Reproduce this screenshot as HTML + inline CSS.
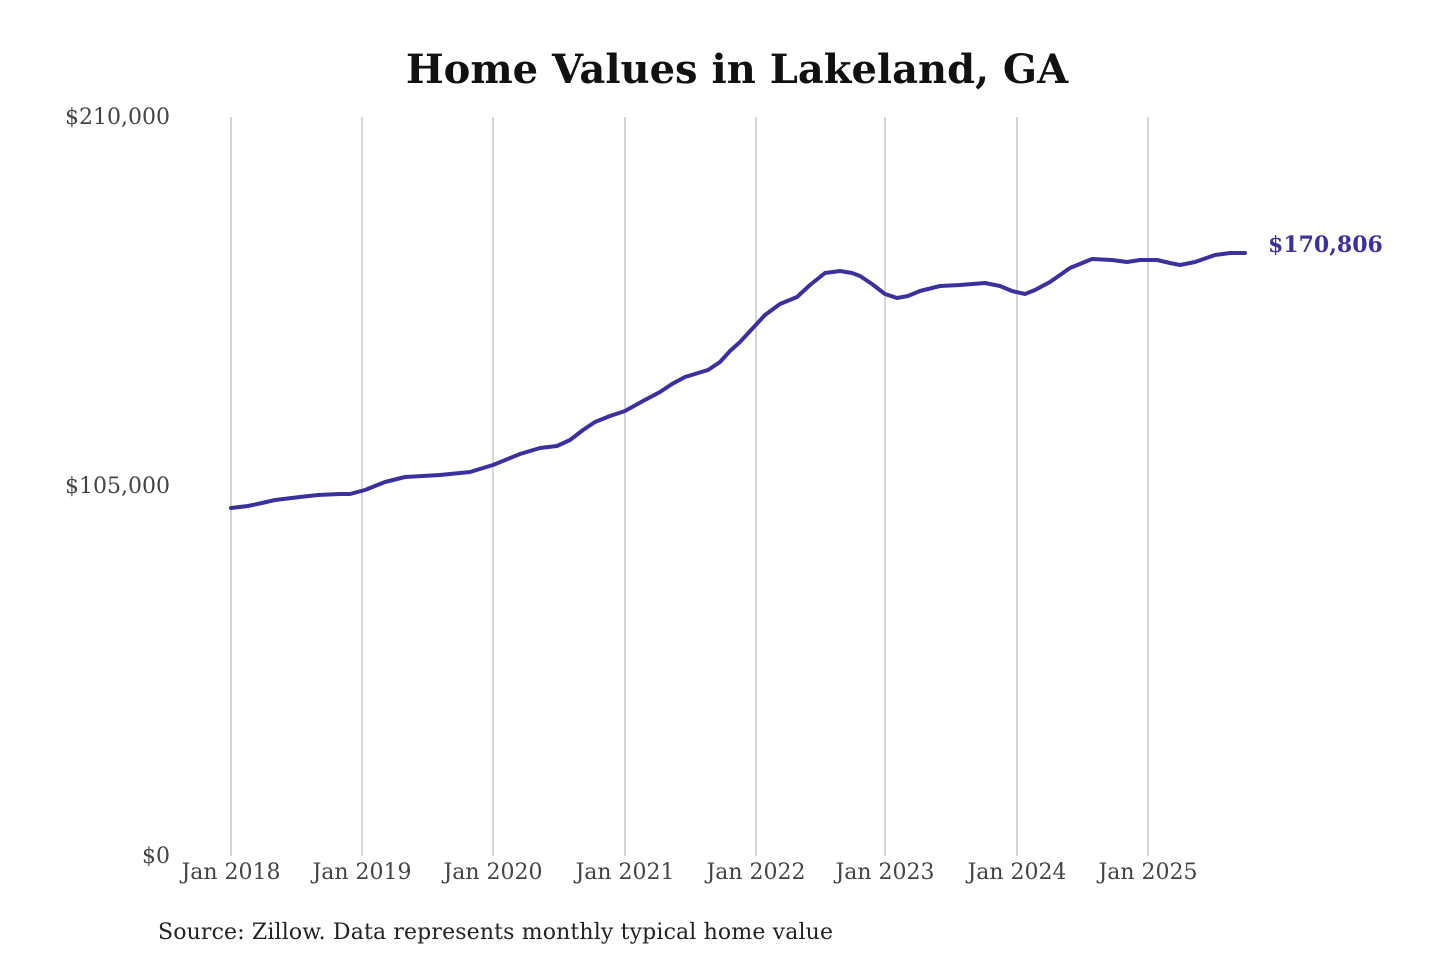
<!DOCTYPE html>
<html><head><meta charset="utf-8"><style>
html,body{margin:0;padding:0;background:#fff;}
svg text{font-family:"DejaVu Serif","Liberation Serif",serif;}
</style></head><body>
<svg width="1440" height="960" viewBox="0 0 1440 960" xmlns="http://www.w3.org/2000/svg">
<rect width="1440" height="960" fill="#fff"/>
<text x="737" y="83" text-anchor="middle" font-size="40" font-weight="bold" fill="#111">Home Values in Lakeland, GA</text>
<g stroke="#c0c0c0" stroke-width="1.3">
<line x1="231" y1="117" x2="231" y2="856"/>
<line x1="362" y1="117" x2="362" y2="856"/>
<line x1="493" y1="117" x2="493" y2="856"/>
<line x1="625" y1="117" x2="625" y2="856"/>
<line x1="756" y1="117" x2="756" y2="856"/>
<line x1="885" y1="117" x2="885" y2="856"/>
<line x1="1017" y1="117" x2="1017" y2="856"/>
<line x1="1148" y1="117" x2="1148" y2="856"/>
</g>
<g font-size="22" fill="#444" text-anchor="end">
<text x="170" y="124">$210,000</text>
<text x="170" y="493">$105,000</text>
<text x="170" y="863">$0</text>
</g>
<g font-size="22" fill="#444" text-anchor="middle">
<text x="231" y="879">Jan 2018</text>
<text x="362" y="879">Jan 2019</text>
<text x="493" y="879">Jan 2020</text>
<text x="625" y="879">Jan 2021</text>
<text x="756" y="879">Jan 2022</text>
<text x="885" y="879">Jan 2023</text>
<text x="1017" y="879">Jan 2024</text>
<text x="1148" y="879">Jan 2025</text>
</g>
<polyline fill="none" stroke="#3a309e" stroke-width="4" stroke-linejoin="round" stroke-linecap="round"
points="231,508 248,506 262,503 275,500 300,497 318,495 340,494 350,494 365,490 385,482 405,477 440,475 470,472 493,465 520,454 540,448 557,446 570,440 583,430 595,422 610,416 625,411 643,401 660,392 672,384 685,377 708,370 720,362 730,351 740,342 752,329 765,315 780,304 797,297 810,285 825,273 840,271 852,273 860,276 872,284 885,294 897,298 908,296 920,291 940,286 960,285 985,283 1000,286 1012,291 1025,294 1035,290 1050,282 1070,268 1092,259 1112,260 1127,262 1140,260 1157,260 1170,263 1180,265 1195,262 1215,255 1230,253 1245,253"/>
<text x="1268" y="252" font-size="22" font-weight="bold" fill="#3a309e">$170,806</text>
<text x="158" y="939" font-size="22" fill="#222" textLength="675" lengthAdjust="spacing">Source: Zillow. Data represents monthly typical home value</text>
</svg>
</body></html>
